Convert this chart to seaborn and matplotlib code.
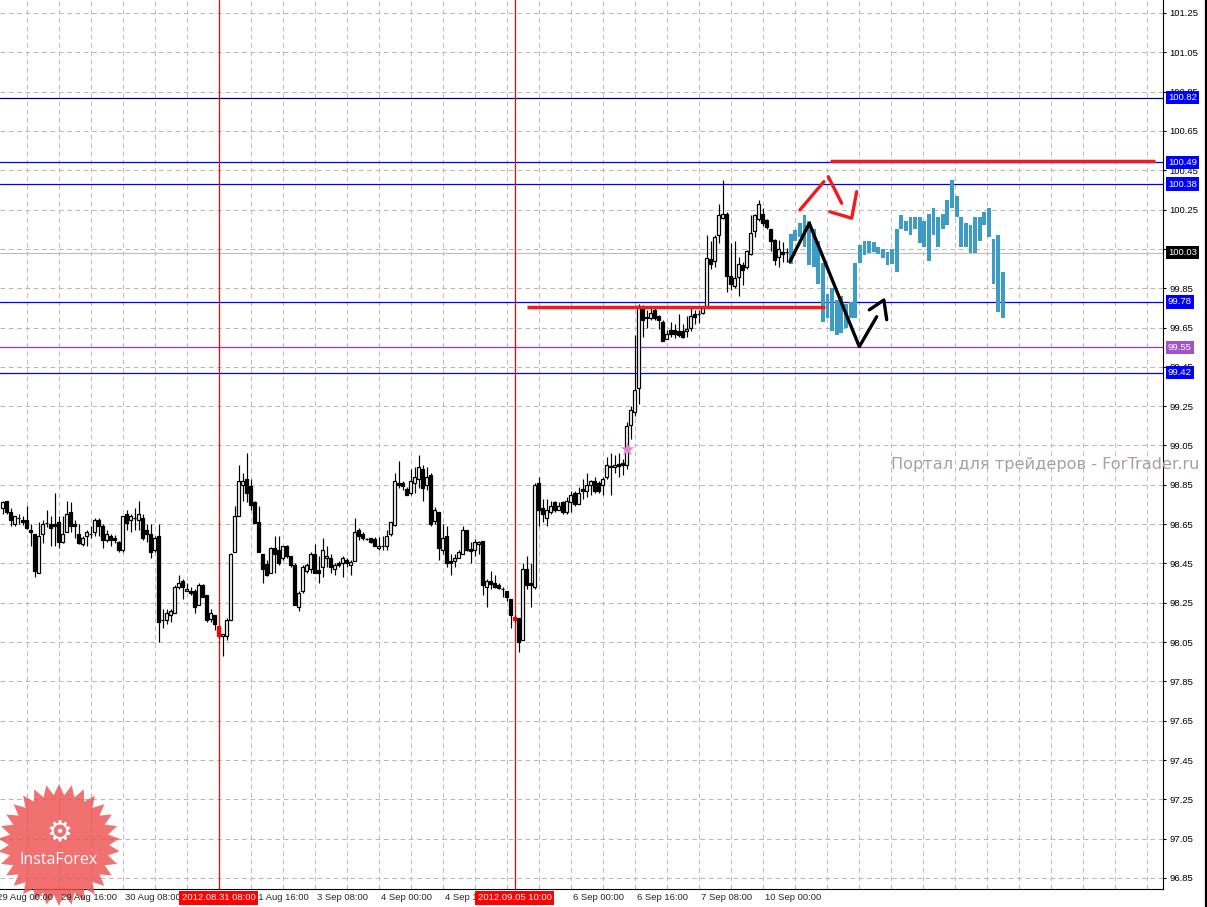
import numpy as np
import matplotlib
matplotlib.use("Agg")
import matplotlib.pyplot as plt
import matplotlib.transforms as mtransforms
from matplotlib.patches import Polygon
from matplotlib.lines import Line2D
import seaborn as sns

# H1 candles (bar index 0 = 29 Aug 02:00)
open_ = [
    98.73, 98.77, 98.71, 98.65, 98.68, 98.67, 98.67, 98.62, 98.60, 98.40,
    98.60, 98.655, 98.65, 98.65, 98.66, 98.56, 98.61, 98.71, 98.65, 98.60,
    98.55, 98.59, 98.60, 98.61, 98.67, 98.64, 98.57, 98.59, 98.58, 98.56,
    98.52, 98.70, 98.67, 98.68, 98.67, 98.68, 98.62, 98.60, 98.52, 98.59,
    98.16, 98.16, 98.19, 98.20, 98.33, 98.36, 98.31, 98.31, 98.31, 98.24,
    98.34, 98.29, 98.165, 98.19, 98.13, 98.08, 98.08, 98.16, 98.51, 98.69,
    98.85, 98.88, 98.845, 98.76, 98.66, 98.50, 98.445, 98.40, 98.53, 98.52,
    98.48, 98.54, 98.49, 98.44, 98.23, 98.31, 98.41, 98.42, 98.50, 98.415,
    98.43, 98.48, 98.48, 98.42, 98.45, 98.45, 98.47, 98.44, 98.46, 98.62,
    98.60, 98.575, 98.58, 98.575, 98.53, 98.54, 98.54, 98.60, 98.645, 98.86,
    98.86, 98.83, 98.81, 98.86, 98.88, 98.93, 98.85, 98.90, 98.665, 98.71,
    98.52, 98.59, 98.46, 98.46, 98.48, 98.50, 98.62, 98.525, 98.52, 98.55,
    98.565, 98.33, 98.36, 98.35, 98.34, 98.32, 98.31, 98.27, 98.18, 98.17,
    98.06, 98.42, 98.35, 98.33, 98.86, 98.73, 98.68, 98.71, 98.76, 98.72,
    98.76, 98.71, 98.76, 98.81, 98.75, 98.83, 98.82, 98.85, 98.87, 98.86,
    98.85, 98.89, 98.94, 98.94, 98.955, 98.96, 98.95, 99.153, 99.22, 99.34,
    99.755, 99.70, 99.70, 99.74, 99.71, 99.68, 99.59, 99.635, 99.635, 99.63,
    99.63, 99.63, 99.65, 99.72, 99.72, 99.725, 99.755, 100.00, 99.99, 100.12,
    100.205, 100.23, 99.91, 99.86, 99.905, 99.97, 99.96, 100.025, 100.14, 100.20,
    100.23, 100.195, 100.15, 100.095, 100.01, 100.035, 100.035,
]
high = [
    98.77, 98.77, 98.73, 98.69, 98.70, 98.69, 98.74, 98.65, 98.60, 98.66,
    98.67, 98.72, 98.69, 98.81, 98.69, 98.69, 98.77, 98.76, 98.67, 98.65,
    98.59, 98.62, 98.64, 98.68, 98.68, 98.65, 98.62, 98.60, 98.595, 98.565,
    98.69, 98.72, 98.70, 98.73, 98.77, 98.70, 98.65, 98.65, 98.59, 98.65,
    98.22, 98.22, 98.22, 98.34, 98.39, 98.37, 98.35, 98.33, 98.32, 98.35,
    98.345, 98.29, 98.22, 98.19, 98.13, 98.09, 98.17, 98.505, 98.74, 98.95,
    98.91, 99.01, 98.88, 98.77, 98.74, 98.50, 98.47, 98.535, 98.59, 98.59,
    98.54, 98.545, 98.49, 98.45, 98.31, 98.44, 98.45, 98.51, 98.55, 98.49,
    98.58, 98.54, 98.50, 98.45, 98.46, 98.49, 98.48, 98.465, 98.68, 98.63,
    98.61, 98.58, 98.58, 98.585, 98.585, 98.59, 98.62, 98.66, 98.91, 98.97,
    98.87, 98.84, 98.93, 98.94, 99.00, 98.95, 98.94, 98.91, 98.735, 98.71,
    98.65, 98.64, 98.50, 98.50, 98.52, 98.64, 98.62, 98.56, 98.575, 98.565,
    98.565, 98.37, 98.41, 98.39, 98.35, 98.33, 98.31, 98.27, 98.19, 98.17,
    98.45, 98.49, 98.45, 98.86, 98.89, 98.78, 98.78, 98.77, 98.77, 98.76,
    98.77, 98.79, 98.82, 98.82, 98.84, 98.88, 98.91, 98.875, 98.89, 98.87,
    98.89, 98.99, 99.01, 99.00, 99.01, 98.98, 99.17, 99.25, 99.61, 99.77,
    99.765, 99.74, 99.75, 99.75, 99.715, 99.69, 99.635, 99.68, 99.67, 99.72,
    99.67, 99.71, 99.755, 99.74, 99.74, 99.76, 100.12, 100.09, 100.12, 100.28,
    100.40, 100.24, 100.08, 100.09, 100.01, 99.985, 100.045, 100.22, 100.225, 100.30,
    100.26, 100.20, 100.15, 100.10, 100.095, 100.085, 100.057,
]
low = [
    98.70, 98.70, 98.64, 98.64, 98.65, 98.645, 98.625, 98.54, 98.38, 98.40,
    98.555, 98.635, 98.54, 98.54, 98.53, 98.555, 98.61, 98.61, 98.58, 98.55,
    98.54, 98.54, 98.58, 98.59, 98.59, 98.53, 98.56, 98.54, 98.555, 98.51,
    98.51, 98.62, 98.61, 98.62, 98.62, 98.57, 98.56, 98.48, 98.51, 98.05,
    98.12, 98.14, 98.15, 98.20, 98.32, 98.27, 98.31, 98.29, 98.20, 98.24,
    98.28, 98.15, 98.15, 98.11, 98.07, 97.98, 98.06, 98.16, 98.51, 98.69,
    98.77, 98.76, 98.72, 98.655, 98.51, 98.35, 98.385, 98.40, 98.40, 98.44,
    98.47, 98.48, 98.43, 98.24, 98.21, 98.30, 98.40, 98.40, 98.40, 98.35,
    98.38, 98.43, 98.40, 98.39, 98.43, 98.38, 98.43, 98.39, 98.46, 98.57,
    98.57, 98.57, 98.555, 98.54, 98.52, 98.52, 98.52, 98.59, 98.64, 98.835,
    98.825, 98.80, 98.80, 98.81, 98.835, 98.77, 98.825, 98.64, 98.65, 98.47,
    98.50, 98.43, 98.39, 98.43, 98.48, 98.50, 98.515, 98.45, 98.49, 98.50,
    98.29, 98.23, 98.32, 98.325, 98.32, 98.28, 98.26, 98.12, 98.15, 98.00,
    98.06, 98.32, 98.23, 98.32, 98.64, 98.66, 98.64, 98.70, 98.71, 98.72,
    98.70, 98.70, 98.71, 98.74, 98.75, 98.78, 98.79, 98.80, 98.81, 98.81,
    98.80, 98.88, 98.80, 98.91, 98.89, 98.90, 98.93, 99.085, 99.20, 99.26,
    99.60, 99.65, 99.69, 99.69, 99.645, 99.58, 99.59, 99.60, 99.595, 99.60,
    99.595, 99.60, 99.63, 99.67, 99.675, 99.72, 99.755, 99.95, 99.96, 100.08,
    100.20, 99.83, 99.84, 99.85, 99.81, 99.865, 99.95, 100.02, 100.11, 100.19,
    100.165, 100.15, 100.04, 99.97, 99.96, 99.985, 99.985,
]
close = [
    98.76, 98.71, 98.67, 98.69, 98.68, 98.66, 98.63, 98.61, 98.41, 98.59,
    98.65, 98.655, 98.63, 98.64, 98.56, 98.60, 98.70, 98.64, 98.64, 98.555,
    98.58, 98.61, 98.60, 98.67, 98.64, 98.57, 98.60, 98.57, 98.57, 98.52,
    98.69, 98.655, 98.69, 98.68, 98.70, 98.58, 98.60, 98.51, 98.58, 98.15,
    98.16, 98.20, 98.21, 98.33, 98.35, 98.33, 98.32, 98.30, 98.23, 98.34,
    98.28, 98.16, 98.20, 98.14, 98.08, 98.09, 98.16, 98.50, 98.69, 98.87,
    98.87, 98.81, 98.745, 98.655, 98.51, 98.42, 98.39, 98.53, 98.50, 98.45,
    98.54, 98.49, 98.44, 98.24, 98.30, 98.43, 98.44, 98.50, 98.40, 98.40,
    98.52, 98.49, 98.43, 98.44, 98.44, 98.48, 98.45, 98.455, 98.61, 98.59,
    98.58, 98.575, 98.56, 98.54, 98.54, 98.54, 98.59, 98.66, 98.87, 98.85,
    98.845, 98.80, 98.87, 98.89, 98.94, 98.835, 98.89, 98.65, 98.72, 98.53,
    98.58, 98.45, 98.45, 98.48, 98.51, 98.62, 98.52, 98.515, 98.56, 98.56,
    98.34, 98.36, 98.345, 98.33, 98.325, 98.32, 98.28, 98.19, 98.16, 98.05,
    98.42, 98.34, 98.34, 98.85, 98.72, 98.70, 98.72, 98.74, 98.72, 98.74,
    98.71, 98.77, 98.80, 98.75, 98.81, 98.82, 98.85, 98.87, 98.82, 98.82,
    98.88, 98.95, 98.945, 98.95, 98.945, 98.95, 99.15, 99.23, 99.33, 99.76,
    99.69, 99.705, 99.725, 99.70, 99.69, 99.58, 99.615, 99.615, 99.615, 99.61,
    99.60, 99.645, 99.71, 99.705, 99.72, 99.75, 100.005, 99.975, 100.11, 100.22,
    100.23, 99.91, 99.87, 99.90, 99.975, 99.945, 100.04, 100.13, 100.22, 100.28,
    100.18, 100.16, 100.09, 99.995, 100.05, 100.025, 100.035,
]
red_bars = [54, 128]  # candles under the two red vertical markers

# teal projection bars (low / high)
teal_high = [
    100.125, 100.145, 100.18, 100.22, 100.19, 100.15, 100.09, 99.98, 99.82, 99.85,
    99.79, 99.81, 99.77, 99.78, 99.98, 100.07, 100.09, 100.09, 100.085, 100.06,
    100.05, 100.035, 100.047, 100.15, 100.22, 100.19, 100.21, 100.21, 100.21, 100.19,
    100.23, 100.26, 100.21, 100.23, 100.30, 100.40, 100.32, 100.21, 100.18, 100.17,
    100.21, 100.21, 100.24, 100.26, 100.10, 100.12, 99.93,
]
teal_low = [
    99.972, 100.09, 100.11, 100.06, 99.97, 99.96, 99.87, 99.68, 99.70, 99.63,
    99.61, 99.62, 99.65, 99.70, 99.70, 99.98, 100.02, 100.03, 100.035, 100.025,
    100.006, 99.967, 99.975, 99.93, 100.15, 100.14, 100.12, 100.15, 100.08, 100.06,
    99.99, 100.12, 100.06, 100.15, 100.17, 100.26, 100.21, 100.06, 100.06, 100.03,
    100.03, 100.09, 100.17, 100.11, 99.87, 99.73, 99.70,
]

# time scale labels (the ones fully under the red date boxes are not visible)
tick_bars = [-2, 14, 30, 46, 62, 78, 94, 110, 126, 142, 158, 174, 190]
tick_labels = ["29 Aug 00:00", "29 Aug 16:00", "30 Aug 08:00", "",
               "31 Aug 16:00", "3 Sep 08:00", "4 Sep 00:00", "4 Sep 16:00",
               "", "6 Sep 00:00", "6 Sep 16:00", "7 Sep 08:00",
               "10 Sep 00:00"]
marker_bars = [54, 128]
marker_labels = ["2012.08.31 08:00", "2012.09.05 10:00"]

levels = [100.82, 100.49, 100.38, 100.03, 99.78, 99.55, 99.42]
level_line_colors = ["#000080", "#0000ff", "#0000ff", "#c0c0c0", "#0000ff", "#9933cc", "#0000ff"]
level_box_colors = ["#0000ff", "#0000ff", "#0000ff", "#000000", "#0000ff", "#a052c8", "#0000ff"]

# hand drawn annotations (bar index, price)
support_bars, support_price = [131.1, 205.6], 99.755
resist_bars, resist_price = [206.8, 288.1], 100.495
zigzag_bar = [196.8, 201.65, 214.15, 218.5]
zigzag_price = [99.985, 100.18, 99.553, 99.705]
zz_head_bar = [216.65, 220.3, 221.0]
zz_head_price = [99.74, 99.79, 99.69]
red_up_bar = [199.3, 205.3]
red_up_price = [100.248, 100.392]
red_down_bar = [206.4, 209.75]
red_down_price = [100.417, 100.282]
red_head_bar = [206.8, 212.25, 213.5]
red_head_price = [100.239, 100.206, 100.341]
star_bar, star_price = 156, 99.03

sns.set_style("white")
plt.rcParams["font.family"] = ["Liberation Sans", "DejaVu Sans"]

fig = plt.figure(figsize=(12.07, 9.07), dpi=100)
fig.patch.set_facecolor("white")
ax = fig.add_axes([0, 18 / 907, 1163 / 1207, 889 / 907])
ax.set_xlim(-0.675, 290.075)
ax.set_ylim(96.794, 101.316)

# grid
yt = np.round(np.arange(96.85, 101.26, 0.2), 2)
ax.set_yticks(yt)
ax.set_yticklabels([f"{v:.2f}" for v in yt])
ax.set_xticks(np.arange(6, 291, 8), minor=True)
ax.xaxis.remove_overlapping_locs = False
ax.set_xticks(tick_bars[1:])
ax.set_xticklabels([])
ax.xaxis.grid(True, which="minor", color="#ccb4cc", ls=(0, (4.5, 3.5)), lw=0.75)
ax.xaxis.grid(False, which="major")
ax.yaxis.grid(True, color="#b6bab6", ls=(0, (4.5, 3.5)), lw=0.75)
ax.set_axisbelow(True)
ax.yaxis.tick_right()
ax.tick_params(axis="y", length=2.2, width=0.8, pad=2.2, labelsize=6.8, colors="black")
ax.tick_params(axis="x", which="major", length=2.5, width=0.8, direction="out")
ax.tick_params(axis="x", which="minor", length=0)
for side in ["left", "top"]:
    ax.spines[side].set_visible(False)
for side in ["right", "bottom"]:
    ax.spines[side].set_color("black")
    ax.spines[side].set_linewidth(0.8)

# levels
for p, c in zip(levels, level_line_colors):
    ax.axhline(p, color=c, lw=0.9, zorder=2)
for b in marker_bars:
    ax.axvline(b, color="#ff0000", lw=0.9, zorder=2)

# candles
o = np.array(open_)
c = np.array(close)
bars = np.arange(len(o))
face = np.where(c < o, "black", "white").astype(object)
edge = np.array(["black"] * len(o), dtype=object)
for b in red_bars:
    face[b] = "#ff0000"
    edge[b] = "#ff0000"
ax.vlines(bars, low, high, color="black", lw=0.85, zorder=3)
ax.bar(bars, np.abs(c - o), bottom=np.minimum(o, c), width=0.68,
       color=list(face), edgecolor=list(edge), lw=0.9, zorder=4)

# teal projection
th = np.array(teal_high)
tl = np.array(teal_low)
teal_x = 197.0 + np.arange(len(th)) * 53.0 / (len(th) - 1)
ax.bar(teal_x, th - tl, bottom=tl, width=0.95, color="#3d9cc4", lw=0, zorder=4)

# red support / resistance strokes
ax.hlines(support_price, *support_bars, color="#ee1c1c", lw=2.5, zorder=5)
ax.hlines(resist_price, *resist_bars, color="#ee1c1c", lw=2.5, zorder=5)

# zigzag and arrows
sns.lineplot(x=zigzag_bar, y=zigzag_price, sort=False, estimator=None, color="black", lw=2.4, ax=ax, zorder=6)
sns.lineplot(x=zz_head_bar, y=zz_head_price, sort=False, estimator=None, color="black", lw=2.4, ax=ax, zorder=6)
for xs, ys in [(red_up_bar, red_up_price), (red_down_bar, red_down_price), (red_head_bar, red_head_price)]:
    sns.lineplot(x=xs, y=ys, sort=False, estimator=None, color="#ee1c1c", lw=2.4, ax=ax, zorder=6)
ax.scatter([star_bar], [star_price], marker="*", s=110, color="#e683d6", zorder=7, lw=0)

# price boxes on the right scale
box_tr = ax.get_yaxis_transform() + mtransforms.ScaledTranslation(5 / 100, 0, fig.dpi_scale_trans)
for p, bc in zip(levels, level_box_colors):
    ax.text(1.0, p, f"{p:.2f}", transform=box_tr, ha="left", va="center", fontsize=6.8,
            color="white", clip_on=False, zorder=8,
            bbox=dict(boxstyle="square,pad=0.22", fc=bc, ec="none"))

# time labels
lab_tr = ax.get_xaxis_transform() + mtransforms.ScaledTranslation(2 / 100, -9 / 100, fig.dpi_scale_trans)
for b, t in zip(tick_bars, tick_labels):
    if t:
        ax.text(b, 0, t, transform=lab_tr, ha="left", va="center", fontsize=6.8, clip_on=False, zorder=9)
mk_tr = ax.get_xaxis_transform() + mtransforms.ScaledTranslation(0, -9 / 100, fig.dpi_scale_trans)
for b, t in zip(marker_bars, marker_labels):
    ax.text(b, 0, t, transform=mk_tr, ha="center", va="center", fontsize=6.8, color="white",
            clip_on=False, zorder=10, bbox=dict(boxstyle="square,pad=0.25", fc="#ff0000", ec="none"))

# watermark
fig.text(1199 / 1207, 1 - 465 / 907, "Портал для трейдеров - ForTrader.ru", ha="right", va="center",
         fontsize=11.6, color="#aa9ea6", family="DejaVu Sans")

# InstaForex badge
n = 30
ang = np.linspace(0, 2 * np.pi, 2 * n, endpoint=False) + np.pi / 2
rad = np.where(np.arange(2 * n) % 2 == 0, 0.61, 0.50)
verts = np.column_stack([0.59 + rad * np.cos(ang), 0.62 + rad * np.sin(ang)])
ax.add_patch(Polygon(verts, closed=True, transform=fig.dpi_scale_trans, fc="#ef5050", ec="none",
                     alpha=0.82, clip_on=False, zorder=8.5))
ax.text(0.59, 0.75, "\u2699", transform=fig.dpi_scale_trans, ha="center", va="center", fontsize=21,
        color="white", family="DejaVu Sans", clip_on=False, zorder=9)
ax.text(0.59, 0.47, "InstaForex", transform=fig.dpi_scale_trans, ha="center", va="center", fontsize=11.5,
        color="white", family="Open Sans", clip_on=False, zorder=9)

# outer window edge
fig.add_artist(Line2D([1206 / 1207] * 2, [0, 1], transform=fig.transFigure, color="black", lw=1.6))

fig.savefig("out.png", dpi=100, facecolor="white")
